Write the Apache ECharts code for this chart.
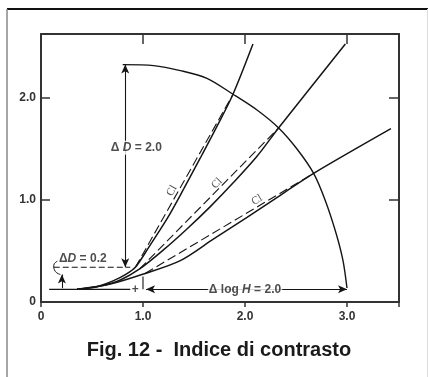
<!DOCTYPE html>
<html><head><meta charset="utf-8">
<script src="https://cdn.jsdelivr.net/npm/echarts@6/dist/echarts.min.js"></script>
<style>html,body{margin:0;padding:0;background:#fff}#c{width:428px;height:377px}</style>
</head><body><div id="c"></div>
<script>
// ---- data (x = log H, y = D) ----
const xTicks = [0, 1, 2, 3];
const yTicks = [0, 1, 2];
const curveSteep = [[0.353,0.124],[0.549,0.150],[0.712,0.209],[0.827,0.268],[0.925,0.340],[1.056,0.536],[1.235,0.814],[1.399,1.108],[1.562,1.412],[1.725,1.722],[1.879,2.029],[2.078,2.529]];
const curveMid = [[0.353,0.124],[0.582,0.157],[0.778,0.216],[0.967,0.324],[1.203,0.513],[1.431,0.716],[1.660,0.935],[1.889,1.173],[2.118,1.428],[2.327,1.703],[2.984,2.529]];
const curveFlat = [[0.353,0.124],[0.680,0.176],[1.007,0.275],[1.366,0.405],[1.693,0.618],[2.020,0.830],[2.346,1.046],[2.673,1.261],[3.431,1.699]];
const arcPoints = [[0.801,2.327],[1.105,2.317],[1.366,2.268],[1.627,2.193],[1.879,2.039],[2.118,1.882],[2.330,1.706],[2.510,1.500],[2.673,1.261],[2.788,0.993],[2.895,0.667],[2.961,0.405],[3.000,0.137]];
const chordSteep = [[0.925,0.340],[1.879,2.029]];
const chordMid = [[0.967,0.324],[2.327,1.703]];
const chordFlat = [[1.023,0.281],[2.673,1.261]];
const baseLine = [[0.08,0.124],[0.875,0.124]];
const levelLine = [[0.125,0.34],[0.875,0.34]];
const projTick = [[1.0,0.124],[1.0,0.25]];
const hookCurve = [[0.16,0.40],[0.125,0.36],[0.14,0.30],[0.19,0.27]];
const arrowDelta2 = [[0.826,0.34],[0.826,2.327]];
const arrowDelta02 = [[0.205,0.135],[0.205,0.27]];
const arrowLogH = [[1.03,0.124],[3.0,0.124]];
const labelDelta2 = [0.935,1.513];
const labelDelta02 = [0.41,0.424];
const labelLogH = [2.0,0.124];
const plusMark = [0.925,0.124];
const clPositions = [[1.284,1.091],[1.725,1.163],[2.118,1.0]];

const FONT = '"Liberation Sans", Arial, Helvetica, sans-serif';
const INK = '#151515';
const fmt = (ticks) => (v) => {
  const t = ticks.find(k => Math.abs(k - v) < 1e-6);
  if (t === undefined) return '';
  return t === 0 ? '0' : t.toFixed(1);
};

function lineSeries(data, opts) {
  return Object.assign({
    type: 'line', data, symbol: 'none', silent: true, animation: false,
    lineStyle: { color: INK, width: 1.5 }
  }, opts || {});
}
function arrowSeries(seg, both) {
  return {
    type: 'line', data: [], silent: true, animation: false,
    markLine: {
      silent: true, animation: false,
      symbol: both ? ['arrow', 'arrow'] : ['none', 'arrow'],
      symbolSize: [6, 9],
      label: { show: false },
      lineStyle: { color: INK, width: 1.1, type: 'solid' },
      data: [[{ coord: seg[0] }, { coord: seg[1] }]]
    }
  };
}

const chart = echarts.init(document.getElementById('c'), null, { renderer: 'canvas' });
const axisLine = { show: true, onZero: false, lineStyle: { color: '#333', width: 2 } };
const labelStyle = { color: '#333', fontSize: 12, fontWeight: 'bold', fontFamily: FONT };

const rich = {
  n: { fontSize: 12, fontWeight: 'bold', fontFamily: FONT, color: '#222' },
  i: { fontSize: 12, fontWeight: 'bold', fontStyle: 'italic', fontFamily: FONT, color: '#222' }
};
function textPoint(pos, text, extra) {
  return {
    value: pos,
    label: Object.assign({
      show: true, position: 'inside', formatter: text, rich,
      backgroundColor: '#fff', padding: [1, 2]
    }, extra || {})
  };
}

chart.setOption({
  backgroundColor: '#fff',
  animation: false,
  grid: { left: 41, right: 29, top: 34, bottom: 75, containLabel: false },
  xAxis: [
    { type: 'value', min: 0, max: 3.51, interval: 1, position: 'bottom',
      axisLine, axisTick: { show: true, inside: false, length: 5, lineStyle: { color: '#333', width: 1.5 } },
      axisLabel: Object.assign({ formatter: fmt(xTicks), margin: 9 }, labelStyle),
      splitLine: { show: false } },
    { type: 'value', min: 0, max: 3.51, interval: 1, position: 'top',
      axisLine, axisTick: { show: true, inside: true, length: 10, lineStyle: { color: '#333', width: 1.5 } },
      axisLabel: { show: false }, splitLine: { show: false } }
  ],
  yAxis: [
    { type: 'value', min: 0, max: 2.627, interval: 1, position: 'left',
      axisLine, axisTick: { show: true, inside: true, length: 9, lineStyle: { color: '#333', width: 1.5 } },
      axisLabel: Object.assign({ formatter: fmt(yTicks), margin: 5 }, labelStyle),
      splitLine: { show: false } },
    { type: 'value', min: 0, max: 2.627, interval: 1, position: 'right',
      axisLine, axisTick: { show: true, inside: true, length: 10, lineStyle: { color: '#333', width: 1.5 } },
      axisLabel: { show: false }, splitLine: { show: false } }
  ],
  graphic: [
    { type: 'line', shape: { x1: 7, y1: 9, x2: 428, y2: 9 }, style: { stroke: '#111', lineWidth: 2 }, silent: true },
    { type: 'line', shape: { x1: 7, y1: 9, x2: 7, y2: 377 }, style: { stroke: '#888', lineWidth: 1.5 }, silent: true },
    { type: 'line', shape: { x1: 427.5, y1: 9, x2: 427.5, y2: 377 }, style: { stroke: '#ddd', lineWidth: 1 }, silent: true },
    { type: 'text', x: 219, y: 350, silent: true,
      style: { text: 'Fig. 12 -  Indice di contrasto', fontSize: 20, fontWeight: 'bold', fontFamily: FONT,
               fill: '#1a1a1a', align: 'center', verticalAlign: 'middle' } }
  ],
  series: [
    lineSeries(curveSteep, { smooth: 0.3 }),
    lineSeries(curveMid, { smooth: 0.3 }),
    lineSeries(curveFlat, { smooth: 0.3 }),
    lineSeries(arcPoints, { smooth: 0.3, lineStyle: { color: INK, width: 1.4 } }),
    lineSeries(chordSteep, { lineStyle: { color: INK, width: 1.1, type: [9, 4] } }),
    lineSeries(chordMid, { lineStyle: { color: INK, width: 1.1, type: [9, 4] } }),
    lineSeries(chordFlat, { lineStyle: { color: INK, width: 1.1, type: [9, 4] } }),
    lineSeries(baseLine, { lineStyle: { color: INK, width: 1.1 } }),
    lineSeries(levelLine, { lineStyle: { color: INK, width: 1.1, type: [6, 3] } }),
    lineSeries(projTick, { lineStyle: { color: INK, width: 1.1 } }),
    lineSeries(hookCurve, { smooth: 0.5, lineStyle: { color: INK, width: 1 } }),
    arrowSeries(arrowDelta2, true),
    arrowSeries(arrowDelta02, false),
    arrowSeries(arrowLogH, true),
    {
      type: 'scatter', symbolSize: 0, silent: true, animation: false, z: 5,
      data: [
        textPoint(labelDelta2, '{n|Δ }{i|D}{n| = 2.0}'),
        textPoint(labelDelta02, '{n|Δ}{i|D}{n| = 0.2}', { backgroundColor: 'transparent' }),
        textPoint(labelLogH, '{n|Δ log }{i|H}{n| = 2.0}', { padding: [1, 1] }),
        textPoint(plusMark, '{n|+}', { backgroundColor: 'transparent' })
      ]
    },
    {
      type: 'scatter', symbolSize: 0, silent: true, animation: false, z: 5,
      data: clPositions.map((p, k) => ({
        value: p,
        label: { show: true, position: 'inside', formatter: 'Cl', rotate: [60, 45, 31][k],
                 fontSize: 11, fontFamily: '"Liberation Serif", "DejaVu Serif", serif', color: '#222' }
      }))
    }
  ]
});
</script></body></html>
